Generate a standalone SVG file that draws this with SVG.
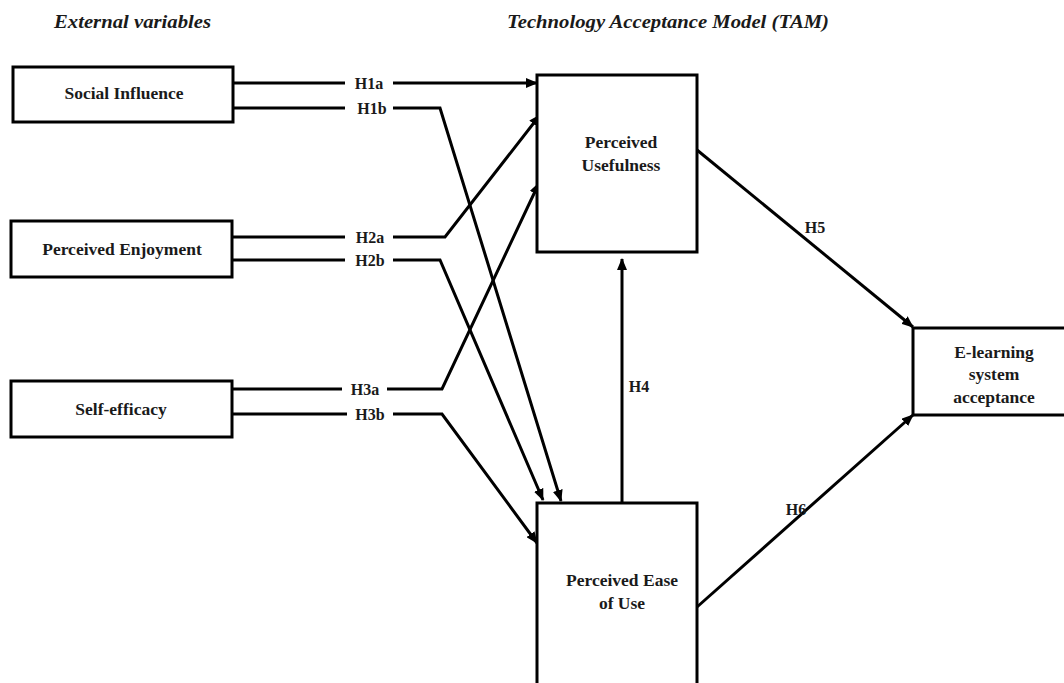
<svg xmlns="http://www.w3.org/2000/svg" width="1064" height="683" viewBox="0 0 1064 683">
<style>
.box{fill:#fff;stroke:#000;stroke-width:3}
.lbl{font-family:"Liberation Serif","Times New Roman",serif;font-weight:bold;font-size:17.5px;fill:#1a1a1a;text-anchor:middle}
.h{font-family:"Liberation Serif","Times New Roman",serif;font-weight:bold;font-size:16px;fill:#1a1a1a;text-anchor:middle}
.title{font-family:"Liberation Serif","Times New Roman",serif;font-style:italic;font-weight:bold;font-size:18px;fill:#1a1a1a}
.ln{fill:none;stroke:#000;stroke-width:3;stroke-linejoin:miter}
.ar{marker-end:url(#arr)}
</style>
<defs>
<marker id="arr" markerUnits="userSpaceOnUse" markerWidth="12" markerHeight="10" refX="11" refY="5" orient="auto">
<path d="M0,0 L12,5 L0,10 z" fill="#000"/>
</marker>
</defs>
<rect width="1064" height="683" fill="#fff"/>
<text class="title" x="54" y="28" textLength="157" lengthAdjust="spacingAndGlyphs">External variables</text>
<text class="title" x="507" y="28" textLength="322" lengthAdjust="spacingAndGlyphs">Technology Acceptance Model (TAM)</text>
<g id="connectors">
<path class="ln" d="M233,83 H345"/>
<path class="ln ar" d="M393,83 H537"/>
<path class="ln" d="M233,108 H345"/>
<path class="ln ar" d="M393,108 H440 L561,501"/>
<path class="ln" d="M232,237 H345"/>
<path class="ln ar" d="M393,237 H445 L540,115"/>
<path class="ln" d="M232,260 H345"/>
<path class="ln ar" d="M393,260 H440 L543,500"/>
<path class="ln" d="M232,389 H342"/>
<path class="ln ar" d="M387,389 H442 L539,183"/>
<path class="ln" d="M232,414 H347"/>
<path class="ln ar" d="M393,414 H442 L537,543"/>
<path class="ln ar" d="M622,503 V259"/>
<path class="ln ar" d="M697,150 L913,327"/>
<path class="ln ar" d="M697,607 L913,415"/>
<text class="h" x="369" y="89">H1a</text>
<text class="h" x="372" y="114">H1b</text>
<text class="h" x="370" y="243">H2a</text>
<text class="h" x="370" y="266">H2b</text>
<text class="h" x="365" y="395">H3a</text>
<text class="h" x="370" y="420">H3b</text>
<text class="h" x="639" y="392">H4</text>
<text class="h" x="815" y="233">H5</text>
<text class="h" x="796" y="515">H6</text>
</g>
<g id="social-influence">
<rect class="box" x="13" y="67" width="220" height="55"/>
<text class="lbl" x="124" y="99">Social Influence</text>
</g>
<g id="perceived-enjoyment">
<rect class="box" x="11" y="221" width="221" height="56"/>
<text class="lbl" x="122" y="255">Perceived Enjoyment</text>
</g>
<g id="self-efficacy">
<rect class="box" x="11" y="381" width="221" height="56"/>
<text class="lbl" x="121" y="415">Self-efficacy</text>
</g>
<g id="perceived-usefulness">
<rect class="box" x="537" y="75" width="160" height="177"/>
<text class="lbl" x="621" y="148">Perceived</text>
<text class="lbl" x="621" y="171">Usefulness</text>
</g>
<g id="perceived-ease-of-use">
<rect class="box" x="537" y="503" width="160" height="190"/>
<text class="lbl" x="622" y="586">Perceived Ease</text>
<text class="lbl" x="622" y="609">of Use</text>
</g>
<g id="elearning-acceptance">
<rect class="box" x="913" y="328" width="160" height="87"/>
<text class="lbl" x="994" y="358">E-learning</text>
<text class="lbl" x="994" y="380">system</text>
<text class="lbl" x="994" y="403">acceptance</text>
</g>
</svg>
